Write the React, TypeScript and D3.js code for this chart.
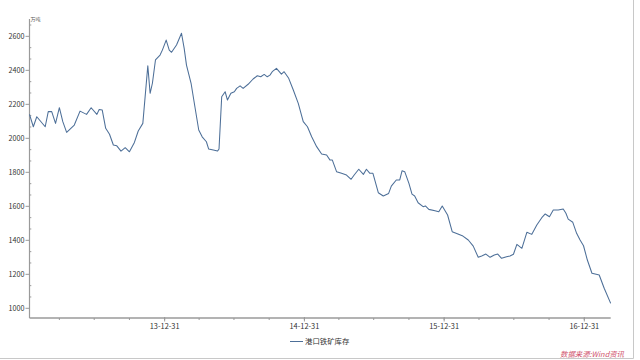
import React from "react";
import * as d3 from "d3";

const dates: string[] = [
  "2013-01-12","2013-01-22","2013-01-31","2013-02-22","2013-03-02","2013-03-11","2013-03-21","2013-03-31",
  "2013-04-09","2013-04-19","2013-05-09","2013-05-24","2013-06-10","2013-06-22","2013-07-07","2013-07-13",
  "2013-07-21","2013-07-30","2013-08-09","2013-08-19","2013-08-28","2013-09-08","2013-09-19","2013-09-30",
  "2013-10-13","2013-10-23","2013-11-04","2013-11-17","2013-11-23","2013-11-29","2013-12-07","2013-12-19",
  "2013-12-25","2014-01-04","2014-01-12","2014-01-18","2014-01-31","2014-02-13","2014-02-20","2014-02-26",
  "2014-03-10","2014-03-20","2014-03-30","2014-04-08","2014-04-19","2014-04-25","2014-05-07","2014-05-18",
  "2014-05-22","2014-05-29","2014-06-07","2014-06-13","2014-06-22","2014-07-01","2014-07-07","2014-07-16",
  "2014-07-24","2014-08-06","2014-08-19","2014-08-30","2014-09-08","2014-09-17","2014-09-25","2014-10-02",
  "2014-10-08","2014-10-19","2014-11-01","2014-11-08","2014-11-20","2014-12-02","2014-12-15","2014-12-28",
  "2015-01-08","2015-01-19","2015-02-01","2015-02-14","2015-02-27","2015-03-08","2015-03-14","2015-03-25",
  "2015-04-07","2015-04-20","2015-05-02","2015-05-10","2015-05-22","2015-06-03","2015-06-11","2015-06-20",
  "2015-06-28","2015-07-12","2015-07-25","2015-08-08","2015-08-15","2015-08-28","2015-09-06","2015-09-12",
  "2015-09-19","2015-09-30","2015-10-08","2015-10-15","2015-10-24","2015-11-06","2015-11-12","2015-11-21",
  "2015-12-07","2015-12-17","2015-12-26","2016-01-09","2016-01-21","2016-02-05","2016-02-18","2016-03-03",
  "2016-03-16","2016-03-29","2016-04-07","2016-04-18","2016-04-29","2016-05-10","2016-05-19","2016-05-29",
  "2016-06-11","2016-06-20","2016-06-29","2016-07-08","2016-07-21","2016-08-03","2016-08-16","2016-08-29",
  "2016-09-11","2016-09-20","2016-10-01","2016-10-11","2016-10-24","2016-11-06","2016-11-13","2016-11-19",
  "2016-12-01","2016-12-11","2016-12-20","2016-12-29","2017-01-08","2017-01-20","2017-01-31","2017-02-08",
  "2017-02-21","2017-03-10"
];

const values: number[] = [
  2141,2068,2127,2068,2157,2157,2088,2180,
  2098,2035,2078,2160,2141,2180,2141,2170,
  2166,2059,2024,1961,1956,1925,1945,1921,
  1976,2043,2088,2427,2265,2324,2461,2490,
  2519,2578,2519,2506,2549,2618,2529,2431,
  2324,2186,2049,2009,1980,1937,1931,1925,
  1937,2245,2274,2225,2265,2274,2294,2309,
  2294,2318,2349,2368,2362,2376,2362,2372,
  2392,2412,2378,2392,2353,2284,2206,2098,
  2068,2009,1951,1908,1902,1872,1872,1804,
  1794,1784,1759,1784,1818,1788,1818,1794,
  1794,1680,1661,1676,1719,1755,1755,1809,
  1804,1735,1672,1661,1621,1598,1602,1582,
  1574,1568,1602,1549,1451,1437,1425,1402,
  1366,1300,1308,1319,1300,1314,1319,1294,
  1303,1308,1318,1376,1353,1447,1435,1490,
  1533,1555,1539,1578,1578,1584,1559,1525,
  1506,1441,1402,1368,1284,1206,1200,1196,
  1118,1029
];

const majorXTicks: string[] = ["2013-12-31", "2014-12-31", "2015-12-31", "2016-12-31"];
const yTicks: number[] = [1000, 1200, 1400, 1600, 1800, 2000, 2200, 2400, 2600];
const seriesName = "港口铁矿库存";
const unitLabel = "万吨";
const sourceLabel = "数据来源:Wind资讯";

const parse = d3.timeParse("%Y-%m-%d");
const fmt = d3.timeFormat("%y-%m-%d");
const FONT = "'Noto Sans CJK SC', 'Noto Sans', sans-serif";
const LINE = "#4d6f98";
const AXIS = "#9a9a9a";

export default function App() {
  const left = 29.5, right = 610.7, top = 19, bottom = 318;
  const data = dates.map((d, i) => ({ date: parse(d) as Date, value: values[i] }));
  const x = d3.scaleTime()
    .domain([parse("2013-01-12") as Date, parse("2017-03-10") as Date])
    .range([left, right]);
  const y = d3.scaleLinear().domain([943, 2702]).range([bottom, top]);

  const line = d3.line<{ date: Date; value: number }>()
    .x(d => x(d.date))
    .y(d => y(d.value));

  const [d0, d1] = x.domain();
  const minorX: Date[] = [];
  for (let yr = 2012; yr <= 2017; yr++) {
    for (const m of [3, 6, 9, 12]) {
      const dt = new Date(yr, m, 0);
      if (dt >= d0 && dt <= d1) minorX.push(dt);
    }
  }
  const majorX = majorXTicks.map(s => parse(s) as Date);

  const minorY: number[] = [];
  for (let v = 1000; v <= 2700; v += 200 / 3) {
    const r = Math.round(v * 3) / 3;
    if (yTicks.some(t => Math.abs(t - r) < 1)) continue;
    if (r >= 943 && r <= 2702) minorY.push(r);
  }

  return (
    <svg width={640} height={360} style={{ position: "absolute", left: 0, top: 0, background: "#fff" }}>
      <rect x={0} y={0} width={640} height={360} fill="#fff" />
      <line x1={633.5} x2={633.5} y1={0} y2={358.5} stroke="#c8c8c8" strokeWidth={1} />
      <line x1={0} x2={633.5} y1={358.5} y2={358.5} stroke="#c8c8c8" strokeWidth={1} />

      <line x1={left} x2={left} y1={top} y2={bottom} stroke={AXIS} strokeWidth={1.2} />
      {yTicks.map(t => (
        <g key={"y" + t}>
          <line x1={left - 4} x2={left} y1={y(t)} y2={y(t)} stroke={AXIS} strokeWidth={1} />
          <text x={left - 5} y={y(t)} dy="0.35em" textAnchor="end" fontSize={7.2} fill="#333" fontFamily={FONT}>{t}</text>
        </g>
      ))}
      {minorY.map((t, i) => (
        <line key={"my" + i} x1={left} x2={left + 1.8} y1={y(t)} y2={y(t)} stroke={AXIS} strokeWidth={1} />
      ))}
      <text x={left + 1} y={top + 2} fontSize={5} fill="#555" fontFamily={FONT}>{unitLabel}</text>

      <line x1={left} x2={right} y1={bottom} y2={bottom} stroke={AXIS} strokeWidth={1.5} />
      {minorX.map((d, i) => (
        <line key={"mx" + i} x1={x(d)} x2={x(d)} y1={bottom} y2={bottom + 2} stroke={AXIS} strokeWidth={1} />
      ))}
      {majorX.map((d, i) => (
        <g key={"x" + i}>
          <line x1={x(d)} x2={x(d)} y1={bottom - 1} y2={bottom + 3.5} stroke={AXIS} strokeWidth={1} />
          <text x={x(d)} y={bottom + 8.5} dy="0.35em" textAnchor="middle" fontSize={7.4} fill="#333" fontFamily={FONT}>{fmt(d)}</text>
        </g>
      ))}

      <path d={line(data) || ""} fill="none" stroke={LINE} strokeWidth={1.05} strokeLinejoin="round" />

      <line x1={290} x2={303} y1={341.5} y2={341.5} stroke={LINE} strokeWidth={1} />
      <text x={305} y={341.5} dy="0.35em" fontSize={7.4} fill="#333" fontFamily={FONT}>{seriesName}</text>

      <text x={624} y={354} dy="0.35em" textAnchor="end" fontSize={7.4} fontStyle="italic" fill="#d0506a" fontFamily={FONT}>{sourceLabel}</text>
    </svg>
  );
}
